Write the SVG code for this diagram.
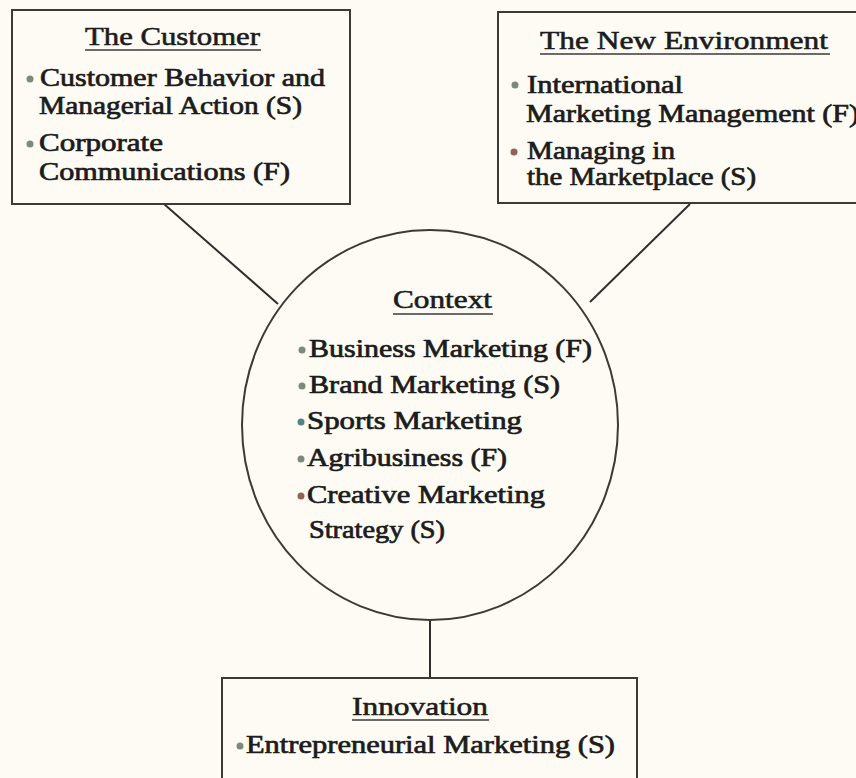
<svg xmlns="http://www.w3.org/2000/svg" width="856" height="778" viewBox="0 0 856 778">
  <style>
    .frame { fill: #fdfbf4; stroke: #3c3a36; stroke-width: 2; }
    .link { stroke: #2e2e2e; stroke-width: 2; fill: none; }
    .t { font-family: "Liberation Serif", "Times New Roman", serif; font-size: 25px; fill: #1c1c1c; stroke: #1c1c1c; stroke-width: 0.7; }
    .h { font-family: "Liberation Serif", "Times New Roman", serif; font-size: 26px; fill: #1c1c1c; stroke: #1c1c1c; stroke-width: 0.6; }
    .ul { stroke: #3a3a3a; stroke-width: 1.6; }
    .dot { fill: #7b8a7a; }
    .dot-red { fill: #94605a; }
    .dot-teal { fill: #4f8484; }
  </style>

  <rect width="856" height="778" fill="#fdfbf4"/>

  <!-- connectors -->
  <g id="connectors">
    <line class="link" x1="164" y1="204" x2="278" y2="304"/>
    <line class="link" x1="690" y1="204" x2="590" y2="302"/>
    <line class="link" x1="430" y1="620" x2="430" y2="678"/>
  </g>

  <!-- The Customer -->
  <g id="customer">
    <rect class="frame" x="12" y="10" width="338" height="194"/>
    <text class="h" x="85" y="45" textLength="175" lengthAdjust="spacingAndGlyphs">The Customer</text>
    <line class="ul" x1="85" y1="50" x2="261" y2="50"/>
    <circle class="dot" cx="30" cy="79" r="3.5"/>
    <text class="t" x="40" y="86" textLength="285" lengthAdjust="spacingAndGlyphs">Customer Behavior and</text>
    <text class="t" x="39" y="114" textLength="263" lengthAdjust="spacingAndGlyphs">Managerial Action (S)</text>
    <circle class="dot" cx="30" cy="144" r="3.5"/>
    <text class="t" x="39" y="151" textLength="124" lengthAdjust="spacingAndGlyphs">Corporate</text>
    <text class="t" x="39" y="180" textLength="251" lengthAdjust="spacingAndGlyphs">Communications (F)</text>
  </g>

  <!-- The New Environment -->
  <g id="environment">
    <rect class="frame" x="498" y="12" width="400" height="191"/>
    <text class="h" x="540" y="49" textLength="288" lengthAdjust="spacingAndGlyphs">The New Environment</text>
    <line class="ul" x1="540" y1="54" x2="830" y2="54"/>
    <circle class="dot" cx="515" cy="85" r="3.5"/>
    <text class="t" x="527" y="93" textLength="156" lengthAdjust="spacingAndGlyphs">International</text>
    <text class="t" x="526" y="122" textLength="333" lengthAdjust="spacingAndGlyphs">Marketing Management (F)</text>
    <circle class="dot-red" cx="514" cy="152" r="3.5"/>
    <text class="t" x="527" y="159" textLength="148" lengthAdjust="spacingAndGlyphs">Managing in</text>
    <text class="t" x="527" y="185" textLength="229" lengthAdjust="spacingAndGlyphs">the Marketplace (S)</text>
  </g>

  <!-- Context -->
  <g id="context">
    <ellipse class="frame" cx="430" cy="425" rx="188" ry="195"/>
    <text class="h" x="393" y="308" textLength="99" lengthAdjust="spacingAndGlyphs">Context</text>
    <line class="ul" x1="393" y1="314" x2="493" y2="314"/>
    <circle class="dot" cx="302" cy="350" r="3.5"/>
    <text class="t" x="309" y="357" textLength="283" lengthAdjust="spacingAndGlyphs">Business Marketing (F)</text>
    <circle class="dot" cx="302" cy="386" r="3.5"/>
    <text class="t" x="309" y="393" textLength="251" lengthAdjust="spacingAndGlyphs">Brand Marketing (S)</text>
    <circle class="dot-teal" cx="301" cy="422" r="3.5"/>
    <text class="t" x="307" y="429" textLength="215" lengthAdjust="spacingAndGlyphs">Sports Marketing</text>
    <circle class="dot" cx="301" cy="459" r="3.5"/>
    <text class="t" x="307" y="466" textLength="200" lengthAdjust="spacingAndGlyphs">Agribusiness (F)</text>
    <circle class="dot-red" cx="301" cy="496" r="3.5"/>
    <text class="t" x="307" y="503" textLength="238" lengthAdjust="spacingAndGlyphs">Creative Marketing</text>
    <text class="t" x="309" y="538" textLength="136" lengthAdjust="spacingAndGlyphs">Strategy (S)</text>
  </g>

  <!-- Innovation -->
  <g id="innovation">
    <rect class="frame" x="222" y="678" width="415" height="130"/>
    <text class="h" x="352" y="715" textLength="136" lengthAdjust="spacingAndGlyphs">Innovation</text>
    <line class="ul" x1="352" y1="720" x2="489" y2="720"/>
    <circle class="dot" cx="240" cy="746" r="3.5"/>
    <text class="t" x="246" y="753" textLength="369" lengthAdjust="spacingAndGlyphs">Entrepreneurial Marketing (S)</text>
  </g>
</svg>
